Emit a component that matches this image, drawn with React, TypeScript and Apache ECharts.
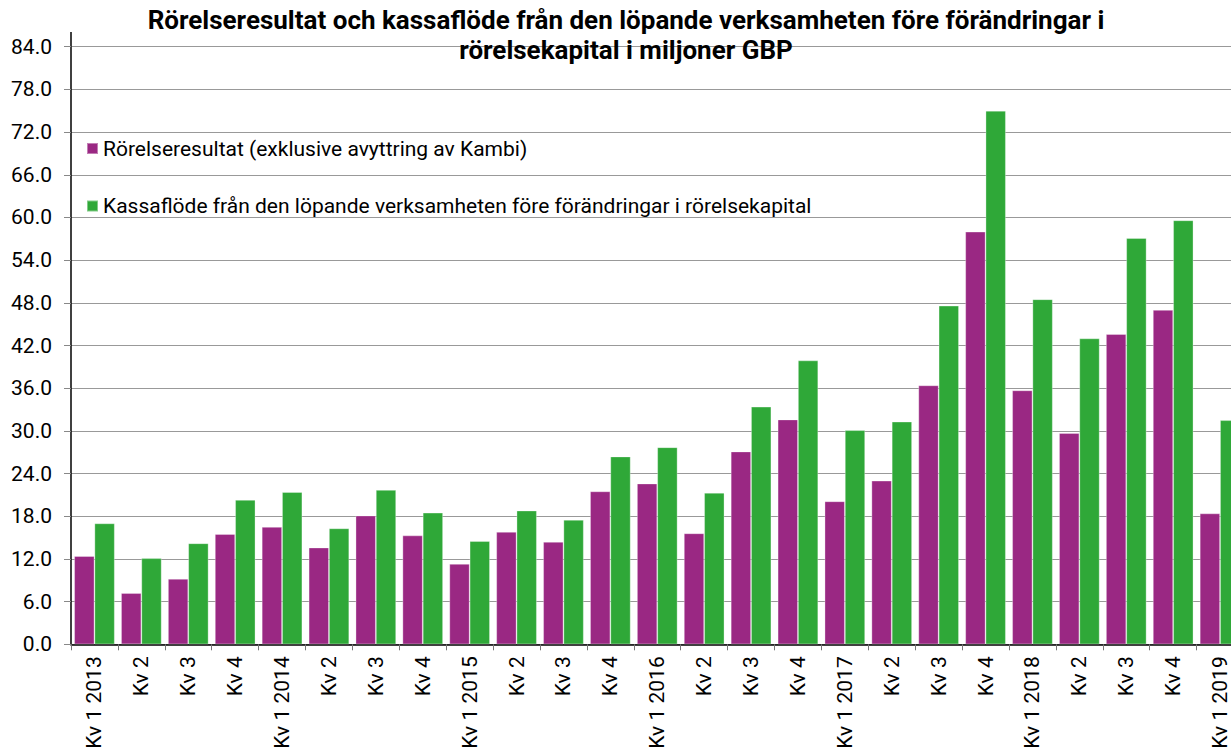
import React, { useEffect, useRef } from "react";
import * as echarts from "echarts";

const categories: string[] = [
  "Kv 1 2013", "Kv 2", "Kv 3", "Kv 4",
  "Kv 1 2014", "Kv 2", "Kv 3", "Kv 4",
  "Kv 1 2015", "Kv 2", "Kv 3", "Kv 4",
  "Kv 1 2016", "Kv 2", "Kv 3", "Kv 4",
  "Kv 1 2017", "Kv 2", "Kv 3", "Kv 4",
  "Kv 1 2018", "Kv 2", "Kv 3", "Kv 4",
  "Kv 1 2019",
];

const operatingResult: number[] = [
  12.4, 7.2, 9.2, 15.5,
  16.5, 13.6, 18.1, 15.3,
  11.3, 15.8, 14.4, 21.5,
  22.6, 15.6, 27.1, 31.6,
  20.1, 23.0, 36.4, 58.0,
  35.7, 29.7, 43.6, 47.0,
  18.4,
];

const cashFlow: number[] = [
  17.0, 12.1, 14.2, 20.3,
  21.4, 16.3, 21.7, 18.5,
  14.5, 18.8, 17.5, 26.4,
  27.7, 21.3, 33.4, 39.9,
  30.1, 31.3, 47.6, 75.0,
  48.5, 43.0, 57.1, 59.6,
  31.5,
];

const seriesNames: string[] = [
  "Rörelseresultat (exklusive avyttring av Kambi)",
  "Kassaflöde från den löpande verksamheten före förändringar i rörelsekapital",
];

const titleText =
  "Rörelseresultat och kassaflöde från den löpande verksamheten före förändringar i\nrörelsekapital i miljoner GBP";

const PURPLE = "#9a2883";
const GREEN = "#2fa838";

export default function App() {
  const ref = useRef<HTMLDivElement>(null);

  useEffect(() => {
    if (!ref.current) return;
    const chart = echarts.init(ref.current, undefined, { renderer: "svg" });
    const gridLeft = 71;
    const gridTop = 46.7;
    const gridHeight = 597.6;
    chart.setOption({
      animation: false,
      backgroundColor: "#ffffff",
      textStyle: { fontFamily: "Roboto" },
      title: {
        text: titleText,
        left: 626,
        top: 5,
        padding: 0,
        textAlign: "center",
        textStyle: {
          fontFamily: "Roboto",
          fontWeight: "bold",
          fontSize: 26,
          lineHeight: 30,
          color: "#000",
        },
      },
      legend: {
        orient: "vertical",
        left: 86,
        top: 138,
        padding: 0,
        itemWidth: 11,
        itemHeight: 11,
        itemGap: 36.5,
        icon: "rect",
        textStyle: { fontFamily: "Roboto", fontSize: 21, color: "#000" },
        data: seriesNames,
      },
      grid: {
        left: gridLeft,
        top: gridTop,
        width: 1172.5,
        height: gridHeight,
        containLabel: false,
        outerBoundsMode: "none",
      },
      xAxis: {
        type: "category",
        data: categories,
        axisLine: { show: true, lineStyle: { color: "#000", width: 1.5 } },
        axisTick: { show: true, length: 6, lineStyle: { color: "#777" } },
        axisLabel: {
          interval: 0,
          rotate: 90,
          margin: 12,
          fontFamily: "Roboto",
          fontSize: 21,
          color: "#000",
        },
      },
      yAxis: {
        type: "value",
        min: 0,
        max: 84,
        interval: 6,
        axisLine: { show: true, lineStyle: { color: "#000", width: 1.5 } },
        axisTick: { show: true, length: 7, lineStyle: { color: "#888" } },
        axisLabel: {
          margin: 19,
          fontFamily: "Roboto",
          fontSize: 21,
          color: "#000",
          formatter: (v: number) => v.toFixed(1),
        },
        splitLine: { show: true, lineStyle: { color: "#999", width: 1 } },
      },
      graphic: [
        {
          type: "line",
          shape: { x1: gridLeft, y1: 32, x2: gridLeft, y2: gridTop },
          style: { stroke: "#000", lineWidth: 1.5 },
          silent: true,
        },
      ],
      series: [
        {
          name: seriesNames[0],
          type: "bar",
          data: operatingResult,
          barGap: "0%",
          barCategoryGap: "13.5%",
          itemStyle: {
            color: PURPLE,
            borderColor: "rgba(255,255,255,0.4)",
            borderWidth: 0.8,
          },
        },
        {
          name: seriesNames[1],
          type: "bar",
          data: cashFlow,
          barGap: "0%",
          barCategoryGap: "13.5%",
          itemStyle: {
            color: GREEN,
            borderColor: "rgba(255,255,255,0.4)",
            borderWidth: 0.8,
          },
        },
      ],
    });
    return () => chart.dispose();
  }, []);

  return (
    <div
      ref={ref}
      style={{ position: "absolute", left: 0, top: 0, width: 1231, height: 751 }}
    />
  );
}
